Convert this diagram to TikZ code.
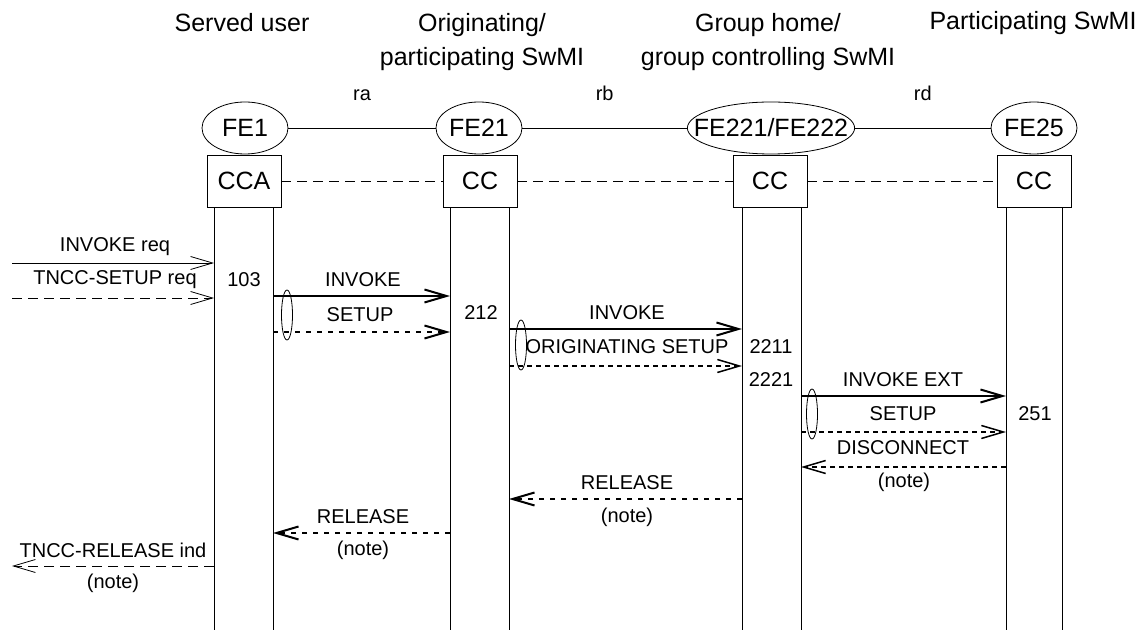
\documentclass[tikz,border=0pt]{standalone}
\usepackage{fontspec}
\setmainfont{Liberation Sans}
\usetikzlibrary{arrows.meta, shapes.geometric}
\tikzset{
	line width = .5pt,
	>={Straight Barb[length=11pt, width=6.5pt]},
	font = \fontsize{10}{12}\selectfont,
	header/.style={
		align=center,
		font=\fontsize{12.5}{17}\selectfont
	},
	fe/.style={
		draw,
		ellipse,
		inner sep=0pt,
		minimum width=43pt,
		minimum height=26pt,
		font=\fontsize{12.5}{14}\selectfont
	},
	ccbox/.style={
		draw,
		rectangle,
		inner sep=0pt,
		minimum width=37pt,
		minimum height=26pt,
		font=\fontsize{12.5}{14}\selectfont
	},
	group/.style={
		draw,
		ellipse,
		inner sep=0pt,
		minimum width=5.5pt,
		minimum height=25pt
	},
	prim/.style={->},
	prim dash/.style={->, dash pattern=on 5pt off 3pt},
	msg/.style={->, line width=1pt},
	msg dot/.style={->, line width=1pt, dash pattern=on 2.5pt off 3pt},
	msg dash/.style={->, line width=.75pt, dash pattern=on 2.5pt off 2pt}
}

\begin{document}
\begin{tikzpicture}[x=.5pt, y=-.5pt]
\useasboundingbox (0,0) rectangle (1146,630);

% ---
% entities
% ---
\node[header] at (242,23) (h-user) {Served user};
\node[header] at (482,42) (h-orig) {Originating/\\participating SwMI};
\node[header] at (768,42) (h-home) {Group home/\\group controlling SwMI};
\node[header] at (1033,23) (h-part) {Participating SwMI};

\node[fe] at (245,128) (fe1) {FE1};
\node[fe] at (479,128) (fe21) {FE21};
\node[fe, inner xsep=-9pt, minimum width=0pt] at (771,128) (fe221) {FE221/FE222};
\node[fe] at (1034,128) (fe25) {FE25};

\draw (fe1) -- node[above=10pt] (ra) {ra} (fe21);
\draw (fe21) -- node[above=10pt] (rb) {rb} (fe221);
\draw (fe221) -- node[above=10pt] (rd) {rd} (fe25);

\node[ccbox] at (244,181) (cca) {CCA};
\node[ccbox] at (480,181) (cc21) {CC};
\node[ccbox] at (770,181) (cc221) {CC};
\node[ccbox] at (1034,181) (cc25) {CC};

\draw[dash pattern=on 5pt off 3pt] (cca) -- (cc21) -- (cc221) -- (cc25);

% ---
% lifelines
% ---
\coordinate (ll-cca-l) at (214,630);
\coordinate (ll-cca-r) at (273,630);
\coordinate (ll-cc21-l) at (450,630);
\coordinate (ll-cc21-r) at (509,630);
\coordinate (ll-cc221-l) at (742,630);
\coordinate (ll-cc221-r) at (801,630);
\coordinate (ll-cc25-l) at (1006,630);
\coordinate (ll-cc25-r) at (1062,630);

\foreach \b/\s in {cca/l, cca/r, cc21/l, cc21/r, cc221/l, cc221/r, cc25/l, cc25/r}
	\draw (\b.south -| ll-\b-\s) -- (ll-\b-\s);

% ---
% messages
% ---
\coordinate (env-in1) at (12,263);
\coordinate (env-in2) at (12,298);
\coordinate (env-out) at (12,566);

\draw[prim] (env-in1) -- (ll-cca-l |- env-in1);
\node at (115,247) (l-invreq) {INVOKE req};
\draw[prim dash] (env-in2) -- (ll-cca-l |- env-in2);
\node at (115,280) (l-setreq) {TNCC-SETUP req};
\node at (244,280) (n-103) {103};

\draw[msg] (ll-cca-r |- 0,296) -- (ll-cc21-l |- 0,296);
\node at (363,280) (l-inv1) {INVOKE};
\draw[msg dot] (ll-cca-r |- 0,332) -- (ll-cc21-l |- 0,332);
\node at (360,315) (l-set1) {SETUP};
\node[group] at (287,315) (g-1) {};
\node at (481,313) (n-212) {212};

\draw[msg] (ll-cc21-r |- 0,329) -- (ll-cc221-l |- 0,329);
\node at (627,313) (l-inv2) {INVOKE};
\draw[msg dash] (ll-cc21-r |- 0,366) -- (ll-cc221-l |- 0,366);
\node at (627,347) (l-orig) {ORIGINATING SETUP};
\node[group] at (521,345) (g-2) {};
\node at (771,347) (n-2211) {2211};
\node at (771,380) (n-2221) {2221};

\draw[msg] (ll-cc221-r |- 0,396) -- (ll-cc25-l |- 0,396);
\node at (903,380) (l-invext) {INVOKE EXT};
\draw[msg dash] (ll-cc221-r |- 0,432) -- (ll-cc25-l |- 0,432);
\node at (903,414) (l-set3) {SETUP};
\node[group] at (812,414) (g-3) {};
\node at (1035,414) (n-251) {251};

\draw[msg dash] (ll-cc25-l |- 0,467) -- (ll-cc221-r |- 0,467);
\node at (903,448) (l-disc) {DISCONNECT};
\node at (904,482) (l-note1) {(note)};

\draw[msg dot] (ll-cc221-l |- 0,499) -- (ll-cc21-r |- 0,499);
\node at (627,483) (l-rel1) {RELEASE};
\node at (627,517) (l-note2) {(note)};

\draw[msg dot] (ll-cc21-l |- 0,533) -- (ll-cca-r |- 0,533);
\node at (363,517) (l-rel2) {RELEASE};
\node at (363,550) (l-note3) {(note)};

\draw[prim dash] (ll-cca-l |- env-out) -- (env-out);
\node at (113,550) (l-relind) {TNCC-RELEASE ind};
\node at (113,583) (l-note4) {(note)};
\end{tikzpicture}
\end{document}
